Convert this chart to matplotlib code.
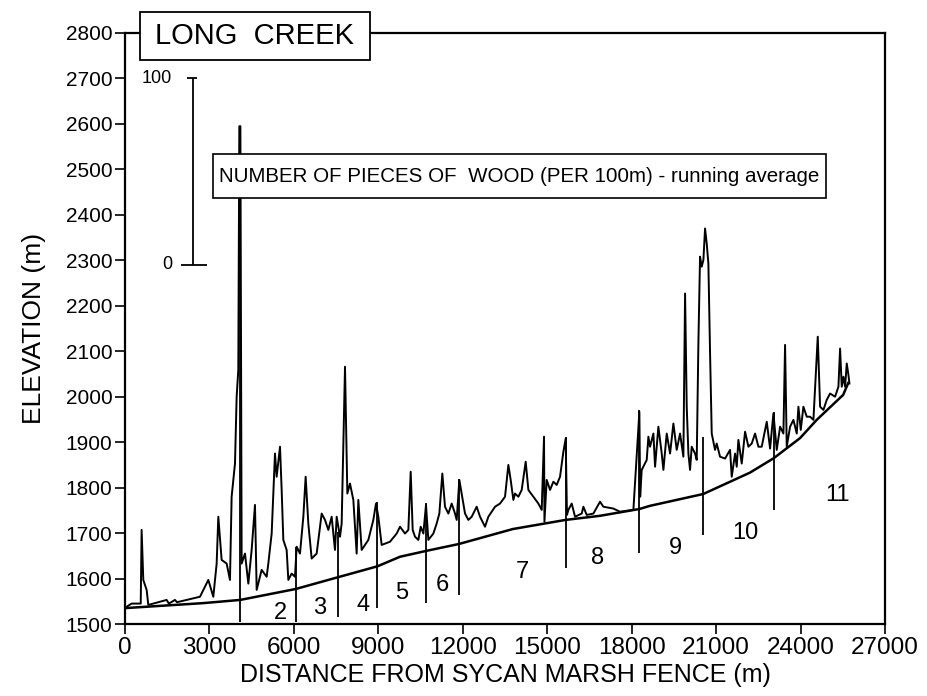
import numpy as np
import matplotlib
matplotlib.use("Agg")
import matplotlib.pyplot as plt
from matplotlib.patches import Rectangle

plt.rcParams['font.family'] = ['Liberation Sans', 'DejaVu Sans']

# ---------------- data ----------------
# channel elevation profile (m) vs distance (m)
profile_x = [0, 2780, 4090, 6060, 7570, 8970, 9770, 10710, 11860, 13780, 15650,
             16870, 18270, 18650, 20540, 22200, 23050, 23980, 24570, 25510, 25690]
profile_y = [1535, 1546, 1553, 1577, 1603, 1627, 1648, 1661, 1676, 1709, 1729,
             1738, 1753, 1760, 1786, 1833, 1865, 1909, 1949, 2004, 2030]

# running average of wood pieces, drawn on the elevation axis (m)
wood_x = [59, 237, 560, 592, 651, 770, 829, 1480, 1560, 1776, 1850, 2664, 2961, 3138,
          3257, 3316, 3434, 3612, 3730, 3789, 3908, 3967, 4026, 4062, 4100, 4145,
          4263, 4382, 4500, 4618, 4678, 4855, 5033, 5092, 5211, 5329, 5388, 5507,
          5566, 5625, 5743, 5803, 5921, 6039, 6099, 6217, 6336, 6418, 6513, 6632,
          6809, 6987, 7105, 7224, 7342, 7460, 7520, 7638, 7697, 7816, 7899, 7993,
          8112, 8230, 8289, 8408, 8645, 8822, 8917, 9000, 9118, 9414, 9651,
          9770, 9947, 10066, 10149, 10220, 10303, 10421, 10504, 10599, 10693, 10776,
          10954, 11072, 11167, 11273, 11368, 11487, 11605, 11724, 11783, 11877, 11960,
          12079, 12197, 12316, 12493, 12612, 12789, 12908, 13145, 13322, 13500, 13618,
          13701, 13796, 13855, 13974, 14092, 14234, 14329, 14507, 14684, 14803, 14885,
          14900, 14980, 15099, 15217, 15335, 15454, 15572, 15655, 15700, 15750, 15868,
          15987, 16224, 16283, 16401, 16638, 16875, 16993, 17348, 17585, 18059, 18272,
          18300, 18355, 18533, 18592,
          18651, 18770, 18829, 18947, 19066, 19125, 19243, 19362, 19480, 19598, 19717,
          19835, 19895, 19954, 20013, 20072, 20131, 20250, 20309, 20368, 20427, 20487,
          20546, 20605, 20664, 20723, 20783, 20842, 20960, 21019, 21138, 21316, 21493,
          21552, 21671, 21730, 21789, 21908, 22026, 22145, 22263, 22381, 22500, 22618,
          22796, 22914, 23033, 23151, 23270, 23388, 23447, 23506, 23625, 23743, 23862,
          23921, 24004, 24098, 24217, 24335, 24454, 24608, 24691, 24809, 24927, 25046,
          25223, 25342, 25401, 25460, 25520, 25579, 25638, 25697, 25733]
wood_y = [1538, 1545, 1545, 1707, 1597, 1575, 1542, 1553, 1545, 1553, 1548, 1560, 1597, 1560,
          1633, 1736, 1641, 1633, 1597, 1780, 1853, 2000, 2059, 2595, 2595, 1633,
          1655, 1589, 1663, 1762, 1575, 1619, 1604, 1633, 1699, 1875, 1824, 1890,
          1795, 1685, 1663, 1597, 1611, 1604, 1670, 1655, 1736, 1824, 1721, 1644,
          1655, 1743, 1729, 1707, 1736, 1663, 1736, 1692, 1721, 2066, 1787, 1809,
          1773, 1655, 1773, 1663, 1685, 1729, 1765, 1736, 1674, 1681, 1699,
          1714, 1699, 1707, 1835, 1707, 1692, 1685, 1714, 1699, 1762, 1685,
          1699, 1721, 1743, 1831, 1758, 1743, 1765, 1743, 1729, 1817, 1787,
          1743, 1729, 1736, 1758, 1736, 1714, 1736, 1758, 1765, 1780, 1850,
          1817, 1773, 1787, 1780, 1795, 1857, 1795, 1780, 1765, 1751, 1912,
          1725, 1817, 1795, 1813, 1806, 1824, 1879, 1908, 1740, 1751, 1765,
          1736, 1743, 1758, 1740, 1743, 1769, 1758, 1754, 1747, 1751, 1967,
          1780, 1839, 1861, 1912,
          1890, 1919, 1846, 1934, 1875, 1839, 1919, 1875, 1941, 1883, 1919,
          1868, 2227, 1978, 1875, 1839, 1890, 1875, 1861, 2117, 2308, 2286,
          2301, 2370, 2337, 2293, 2095, 1919, 1883, 1897, 1868, 1864, 1883,
          1824, 1875, 1846, 1905, 1853, 1923, 1890, 1897, 1919, 1890, 1890,
          1945, 1886, 1963, 1883, 1934, 1919, 2114, 1890, 1934, 1949, 1919,
          1978, 1927, 1978, 1956, 1956, 1949, 2132, 1978, 1971, 1993, 2007,
          2000, 2022, 2106, 2022, 2044, 2022, 2073, 2048, 2029]

# reach boundaries (distance, lower end, upper end of marker line)
boundary_x = [4100, 6060, 7570, 8970, 10710, 11860, 15650, 18270, 20540, 23050]
boundary_lo = [1504, 1504, 1515, 1535, 1546, 1564, 1623, 1656, 1696, 1751]
boundary_hi = [2595, 1669, 1702, 1768, 1766, 1819, 1911, 1971, 1911, 1966]

reach_labels = ['2', '3', '4', '5', '6', '7', '8', '9', '10', '11']
reach_label_x = [5505, 6927, 8455, 9840, 11260, 14100, 16770, 19540, 22020, 25295]
reach_label_y = [1524, 1535, 1542, 1568, 1586, 1614, 1645, 1667, 1700, 1784]

x_ticks = [0, 3000, 6000, 9000, 12000, 15000, 18000, 21000, 24000, 27000]
y_ticks = [1500, 1600, 1700, 1800, 1900, 2000, 2100, 2200, 2300, 2400, 2500, 2600, 2700, 2800]

# wood scale bar: 0 and 100 pieces on the elevation axis
scale_labels = ['0', '100']
scale_y = [2290, 2700]

# ---------------- figure ----------------
fig = plt.figure(figsize=(9.27, 6.96), dpi=100)
ax = fig.add_axes([0.1348, 0.1034, 0.82, 0.8492])
ax.set_xlim(0, 27000)
ax.set_ylim(1500, 2800)

ax.plot(profile_x, profile_y, color='black', lw=1.8, zorder=3)
ax.plot(wood_x, wood_y, color='black', lw=1.4, zorder=3)
ax.vlines(boundary_x, boundary_lo, boundary_hi, color='black', lw=1.3, zorder=3)

for lab, xx, yy in zip(reach_labels, reach_label_x, reach_label_y):
    ax.text(xx, yy, lab, ha='center', va='center', fontsize=17)

# scale bar
sx = 2400
ax.vlines(sx, scale_y[0], scale_y[1], color='black', lw=1.3)
ax.hlines(scale_y[0], 1989, 2913, color='black', lw=1.3)
ax.hlines(scale_y[1], 2203, 2558, color='black', lw=1.3)
for lab, yy in zip(scale_labels, scale_y):
    ax.text(1670, yy, lab, ha='right', va='center', fontsize=13)

# wood legend box
ax.add_patch(Rectangle((3126, 2437), 24900 - 3126, 2533 - 2437, facecolor='white',
                       edgecolor='black', lw=1.2, zorder=5))
ax.text((3126 + 24900) / 2, 2485, 'NUMBER OF PIECES OF  WOOD (PER 100m) - running average',
        ha='center', va='center', fontsize=14.8, zorder=6)

# title box
ax.add_patch(Rectangle((533, 2741), 8700 - 533, 2846 - 2741, facecolor='white',
                       edgecolor='black', lw=1.3, zorder=5, clip_on=False))
ax.text((533 + 8700) / 2, 2793, 'LONG  CREEK', ha='center', va='center', fontsize=21,
        zorder=6, clip_on=False)

ax.set_xticks(x_ticks)
ax.set_xticklabels([str(t) for t in x_ticks], fontsize=17.5)
ax.set_yticks(y_ticks)
ax.set_yticklabels([str(t) for t in y_ticks], fontsize=15)
ax.tick_params(direction='out', length=7, width=1.2, pad=2)
for s in ax.spines.values():
    s.set_linewidth(1.6)

ax.set_xlabel('DISTANCE FROM SYCAN MARSH FENCE (m)', fontsize=18, labelpad=3)
ax.set_ylabel('ELEVATION (m)', fontsize=19, labelpad=14)

fig.savefig('out.png', dpi=100)
